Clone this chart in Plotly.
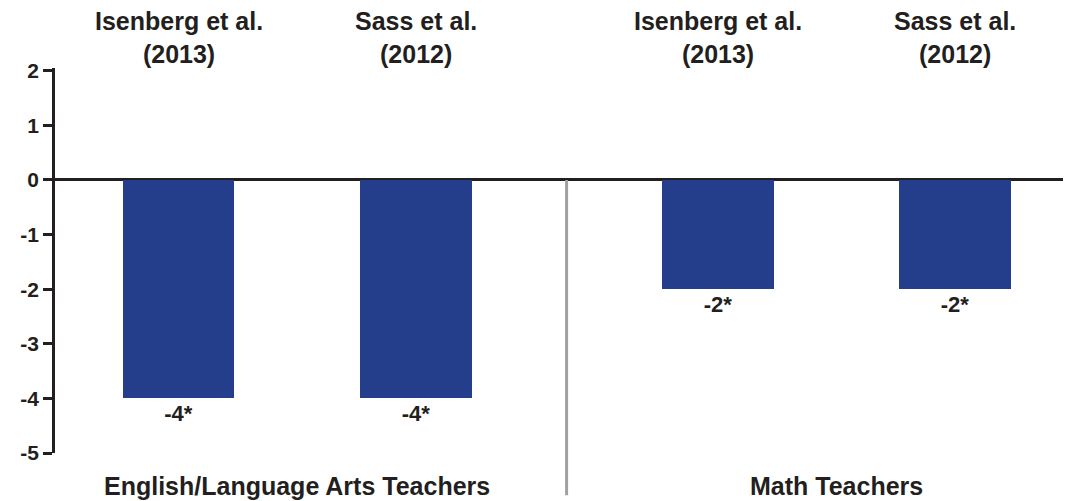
import plotly.graph_objects as go

# data
groups = ["English/Language Arts Teachers", "Math Teachers"]
studies = ["Isenberg et al.<br>(2013)", "Sass et al.<br>(2012)",
           "Isenberg et al.<br>(2013)", "Sass et al.<br>(2012)"]
values = [-4, -4, -2, -2]
labels = ["-4*", "-4*", "-2*", "-2*"]
yticks = [2, 1, 0, -1, -2, -3, -4, -5]

# bar slots, with a wider gap between the two teacher groups
xpos = [0, 1, 2.27, 3.265]
divider = 1.632
y_range = [-5, 2.05]

TXT = "#231f20"
BAR = "#243e8c"
FONT = "Liberation Sans, Arial, sans-serif"

fig = go.Figure()
fig.add_trace(
    go.Bar(
        x=xpos,
        y=values,
        width=0.47,
        marker={"color": BAR, "line": {"width": 0}},
        text=labels,
        textposition="outside",
        textfont={"size": 22, "color": TXT, "family": FONT, "weight": "bold"},
        cliponaxis=False,
        showlegend=False,
        hoverinfo="skip",
    )
)

# study names above each bar
for x, s in zip(xpos, studies):
    fig.add_annotation(
        x=x, y=1, yref="paper", yanchor="bottom", yshift=-2,
        text=s, showarrow=False,
        font={"size": 25, "color": TXT, "family": FONT, "weight": "bold"},
    )

# group names under the plot
group_x = [(xpos[0] + xpos[1]) / 2, (xpos[2] + xpos[3]) / 2]
for x, g in zip(group_x, groups):
    fig.add_annotation(
        x=x, y=0, yref="paper", yanchor="top", yshift=-17,
        text=g, showarrow=False,
        font={"size": 25, "color": TXT, "family": FONT, "weight": "bold"},
    )

# grey divider between the groups, from zero line down past the axis
zero_frac = (0 - y_range[0]) / (y_range[1] - y_range[0])
fig.add_shape(
    type="line", xref="x", yref="paper",
    x0=divider, x1=divider, y0=zero_frac, y1=-0.11,
    line={"color": "#a0a0a0", "width": 3},
)

# page has an 8px body margin, so size the figure to what is visible
fig.update_layout(
    width=1069,
    height=493,
    margin={"l": 42, "r": 14, "t": 60, "b": 48},
    plot_bgcolor="white",
    paper_bgcolor="white",
    bargap=0,
    xaxis=dict(
        range=[-0.52, 3.72],
        showticklabels=False,
        showgrid=False,
        zeroline=False,
        showline=False,
        ticks="",
    ),
    yaxis=dict(
        range=y_range,
        tickvals=yticks,
        ticktext=[str(v) for v in yticks],
        showgrid=False,
        zeroline=True,
        zerolinecolor=TXT,
        zerolinewidth=2.5,
        showline=True,
        linecolor=TXT,
        linewidth=2.5,
        ticks="outside",
        ticklen=9,
        tickwidth=2.5,
        tickcolor=TXT,
        tickfont={"size": 21, "color": TXT, "family": FONT, "weight": "bold"},
    ),
)

fig.write_html("out.html")
